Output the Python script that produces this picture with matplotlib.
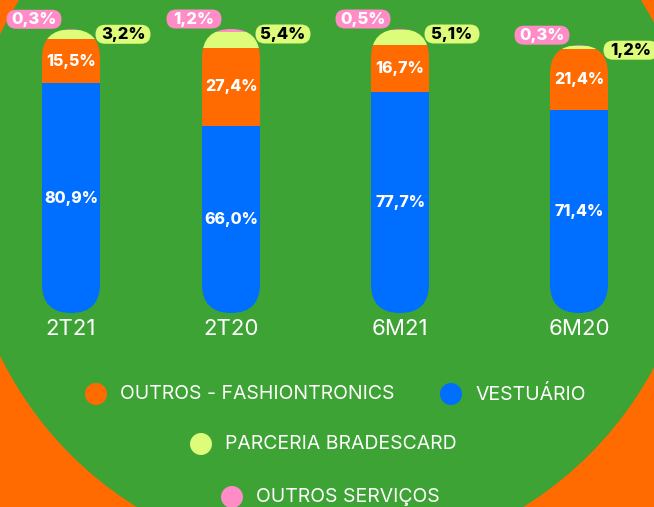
import matplotlib
matplotlib.use("Agg")
import matplotlib.pyplot as plt
from matplotlib.patches import Circle, FancyBboxPatch

# data (share of revenue, %)
categories = ["2T21", "2T20", "6M21", "6M20"]
vestuario = [80.9, 66.0, 77.7, 71.4]
fashiontronics = [15.5, 27.4, 16.7, 21.4]
bradescard = [3.2, 5.4, 5.1, 1.2]
servicos = [0.3, 1.2, 0.5, 0.3]

GREEN = "#3da334"
ORANGE = "#ff6b00"
BLUE = "#006eff"
YELLOW = "#dcfc7a"
PINK = "#ff8bc7"

plt.rcParams["font.family"] = ["Inter", "DejaVu Sans"]

W, H = 654, 507
fig = plt.figure(figsize=(W / 100, H / 100), dpi=100)
fig.patch.set_facecolor(ORANGE)

# background: big green disc on orange
bg = fig.add_axes([0, 0, 1, 1])
bg.set_xlim(0, W)
bg.set_ylim(H, 0)
bg.axis("off")
bg.add_patch(Circle((330, 195), 367, color=GREEN, lw=0))

# main chart axes: x in pixels, y in percent
y0_px, y100_px = 313, 29
ax = fig.add_axes([0, (H - y0_px) / H, 1, (y0_px - y100_px) / H])
ax.set_xlim(0, W)
ax.set_ylim(0, 100)
ax.set_frame_on(False)
ax.patch.set_visible(False)
asp = 100 / (y0_px - y100_px)  # percent per pixel

x_pos = [71, 231, 400, 579]
bar_w = 58


def pill(xc, yc, w_px, h_px, color, z=3):
    p = FancyBboxPatch((xc - w_px / 2, yc - h_px / 2 * asp), w_px, h_px * asp,
                       boxstyle="round,pad=0,rounding_size=%f" % (min(w_px, h_px) / 2),
                       mutation_aspect=asp, facecolor=color, edgecolor="none",
                       transform=ax.transData, zorder=z, clip_on=False)
    ax.add_patch(p)
    return p


def fmt(v):
    return ("%.1f" % v).replace(".", ",") + "%"


stack = [(vestuario, BLUE), (fashiontronics, ORANGE), (bradescard, YELLOW), (servicos, PINK)]
bottom = [0.0] * len(categories)
segments = [[] for _ in categories]
for vals, col in stack:
    bars = ax.bar(x_pos, vals, bottom=bottom, width=bar_w, color=col, lw=0, zorder=2)
    for i, r in enumerate(bars):
        segments[i].append(r)
    if col in (BLUE, ORANGE):
        for i, v in enumerate(vals):
            ax.text(x_pos[i], bottom[i] + v / 2, fmt(v), color="white", fontsize=11.5,
                    fontweight="heavy", ha="center", va="center", zorder=5)
    bottom = [b + v for b, v in zip(bottom, vals)]

# rounded caps: clip each column to a pill shape
totals = bottom
for i, t in enumerate(totals):
    c = pill(x_pos[i], t / 2, bar_w, t / asp, "none", z=1)
    for r in segments[i]:
        r.set_clip_path(c)

# outside tags for the two small series
for i, t in enumerate(totals):
    xp, yp = x_pos[i] - 37, t + 10 * asp
    pill(xp, yp, 55, 19, PINK, z=4)
    ax.text(xp, yp, fmt(servicos[i]), color="white", fontsize=12, fontweight="heavy",
            ha="center", va="center", zorder=5)
    xy, yy = x_pos[i] + 52, t - 5 * asp
    pill(xy, yy, 55, 19, YELLOW, z=4)
    ax.text(xy, yy, fmt(bradescard[i]), color="black", fontsize=12, fontweight="heavy",
            ha="center", va="center", zorder=5)

ax.set_yticks([])
ax.set_xticks(x_pos, categories)
ax.tick_params(axis="x", length=0, pad=4, labelsize=16, labelcolor="white")

# legend, laid out by hand in three centred rows
legend_items = [
    ("OUTROS - FASHIONTRONICS", ORANGE, 96, 394),
    ("VESTUÁRIO", BLUE, 451, 394),
    ("PARCERIA BRADESCARD", YELLOW, 201, 444),
    ("OUTROS SERVIÇOS", PINK, 232, 497),
]
for name, col, lx, ly in legend_items:
    bg.add_patch(Circle((lx, ly), 11, color=col, lw=0))
    bg.text(lx + 24, ly, name, color="white", fontsize=14, ha="left", va="center")

fig.savefig("out.png", dpi=100, facecolor=fig.get_facecolor())
